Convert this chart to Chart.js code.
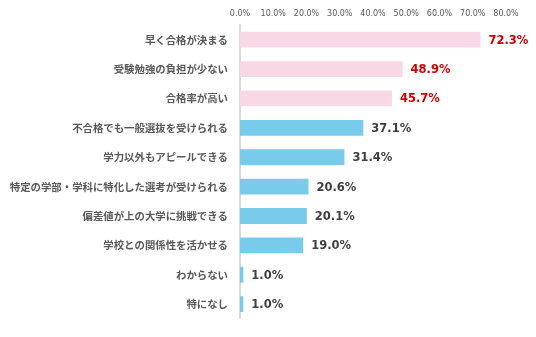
<!DOCTYPE html>
<html lang="ja">
<head>
    <meta charset="UTF-8">
    <title>推薦入試のメリット</title>
    <script src="https://cdn.jsdelivr.net/npm/chart.js"></script>
    <style>
        html, body {
            margin: 0;
            padding: 0;
            background: #ffffff;
        }
        #wrap {
            width: 536px;
            height: 337px;
        }
    </style>
</head>
<body>
    <div id="wrap"><canvas id="myChart"></canvas></div>

    <script>
        const categories = [
            '早く合格が決まる',
            '受験勉強の負担が少ない',
            '合格率が高い',
            '不合格でも一般選抜を受けられる',
            '学力以外もアピールできる',
            '特定の学部・学科に特化した選考が受けられる',
            '偏差値が上の大学に挑戦できる',
            '学校との関係性を活かせる',
            'わからない',
            '特になし'
        ];
        const values = [72.3, 48.9, 45.7, 37.1, 31.4, 20.6, 20.1, 19.0, 1.0, 1.0];
        const highlighted = [true, true, true, false, false, false, false, false, false, false];
        const xTicks = [0, 10, 20, 30, 40, 50, 60, 70, 80];

        const pink = '#f8d8e6';
        const blue = '#78cbeb';

        // ラベルを棒の右に描く
        const valueLabels = {
            id: 'valueLabels',
            afterDatasetsDraw(chart) {
                const ctx = chart.ctx;
                const meta = chart.getDatasetMeta(0);
                ctx.save();
                ctx.font = 'bold 11.5px "DejaVu Sans", Verdana, sans-serif';
                ctx.textBaseline = 'middle';
                ctx.textAlign = 'left';
                meta.data.forEach((bar, i) => {
                    ctx.fillStyle = highlighted[i] ? '#cc0000' : '#404040';
                    ctx.fillText(values[i].toFixed(1) + '%', bar.x + 8, bar.y + 1);
                });
                ctx.restore();
            }
        };

        const ctx = document.getElementById('myChart').getContext('2d');
        new Chart(ctx, {
            type: 'bar',
            data: {
                labels: categories,
                datasets: [{
                    data: values,
                    backgroundColor: highlighted.map(h => h ? pink : blue),
                    borderWidth: 0,
                    barPercentage: 0.9,
                    categoryPercentage: 0.6
                }]
            },
            options: {
                indexAxis: 'y',
                responsive: true,
                maintainAspectRatio: false,
                animation: false,
                layout: {
                    padding: { left: 0, right: 30, top: 0, bottom: 16 }
                },
                scales: {
                    x: {
                        position: 'top',
                        min: 0,
                        max: 80,
                        afterBuildTicks(scale) {
                            scale.ticks = xTicks.map(v => ({ value: v }));
                        },
                        afterFit(scale) {
                            scale.height = 25;
                        },
                        grid: { display: false, drawTicks: false },
                        border: { display: false },
                        ticks: {
                            padding: 6,
                            color: '#595959',
                            font: { family: '"DejaVu Sans", Verdana, sans-serif', size: 8 },
                            maxRotation: 0,
                            callback: v => v.toFixed(1) + '%'
                        }
                    },
                    y: {
                        afterFit(scale) {
                            scale.width = 240;
                        },
                        grid: { display: false, drawTicks: false },
                        border: { display: true, color: '#d9d9d9', width: 2 },
                        ticks: {
                            padding: 12,
                            color: '#595959',
                            font: { family: '"Noto Sans CJK JP", sans-serif', size: 10.4, weight: 'bold' }
                        }
                    }
                },
                plugins: {
                    legend: { display: false },
                    tooltip: { enabled: false }
                }
            },
            plugins: [valueLabels]
        });
    </script>
</body>
</html>
